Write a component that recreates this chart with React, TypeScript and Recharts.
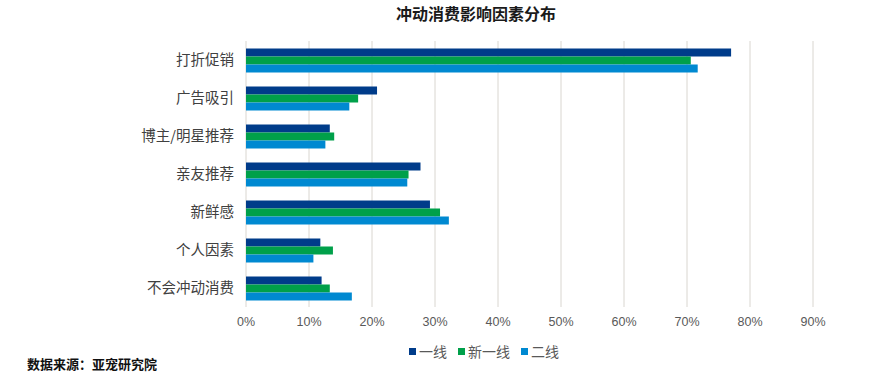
import { Bar, BarChart, CartesianGrid, XAxis, YAxis } from 'recharts';

// 冲动消费影响因素分布 — values in %.
const FACTORS = ['打折促销', '广告吸引', '博主/明星推荐', '亲友推荐', '新鲜感', '个人因素', '不会冲动消费'];
const TIER1 = [77.0, 20.8, 13.3, 27.7, 29.2, 11.8, 12.0];
const NEW_TIER1 = [70.6, 17.8, 14.0, 25.8, 30.8, 13.8, 13.3];
const TIER2 = [71.7, 16.4, 12.6, 25.6, 32.2, 10.7, 16.8];
const X_TICKS = [0, 10, 20, 30, 40, 50, 60, 70, 80, 90];

const SERIES = [
  { key: 'tier1', name: '一线', color: '#003C8A' },
  { key: 'newTier1', name: '新一线', color: '#00A04A' },
  { key: 'tier2', name: '二线', color: '#0089D1' },
];

const FONT = '"Noto Sans CJK SC", "Noto Sans", sans-serif';

export default function App() {
  const data = FACTORS.map((f, i) => ({
    factor: f,
    tier1: TIER1[i],
    newTier1: NEW_TIER1[i],
    tier2: TIER2[i],
  }));

  return (
    <div
      style={{
        position: 'absolute',
        left: 0,
        top: 0,
        width: 893,
        height: 373,
        background: '#fff',
        fontFamily: FONT,
      }}
    >
      <div
        style={{
          position: 'absolute',
          left: 396,
          top: 2,
          fontSize: 16,
          fontWeight: 700,
          color: '#1a1a1a',
          lineHeight: '22px',
          whiteSpace: 'nowrap',
        }}
      >
        冲动消费影响因素分布
      </div>

      <BarChart
        width={893}
        height={373}
        data={data}
        layout="vertical"
        margin={{ top: 41, right: 80, bottom: 36, left: 0 }}
        barCategoryGap="20%"
        barGap={0}
      >
        <CartesianGrid horizontal={false} stroke="#d9d6d0" />
        <XAxis
          type="number"
          domain={[0, 90]}
          ticks={X_TICKS}
          tickFormatter={(v) => `${v}%`}
          axisLine={false}
          tickLine={false}
          tickSize={0}
          tickMargin={10}
          height={30}
          tick={{ fontSize: 12.5, fill: '#595959', fontFamily: 'Arial, "Liberation Sans", sans-serif' }}
        />
        <YAxis
          type="category"
          dataKey="factor"
          width={246}
          axisLine={false}
          tickLine={false}
          tickSize={0}
          tickMargin={12}
          tick={{ fontSize: 14.5, fill: '#404040', fontFamily: FONT }}
        />
        {SERIES.map((s) => (
          <Bar
            key={s.key}
            dataKey={s.key}
            name={s.name}
            fill={s.color}
            isAnimationActive={false}
          />
        ))}
      </BarChart>

      <div
        style={{
          position: 'absolute',
          left: 409,
          top: 341,
          display: 'flex',
          alignItems: 'center',
          fontSize: 14,
          color: '#595959',
          lineHeight: '20px',
          whiteSpace: 'nowrap',
        }}
      >
        {SERIES.map((s) => (
          <span key={s.key} style={{ display: 'flex', alignItems: 'center', marginRight: 11 }}>
            <span style={{ width: 7, height: 7, background: s.color, marginRight: 3 }} />
            {s.name}
          </span>
        ))}
      </div>

      <div
        style={{
          position: 'absolute',
          left: 27,
          top: 355,
          fontSize: 13,
          fontWeight: 700,
          color: '#111',
          lineHeight: '18px',
          whiteSpace: 'nowrap',
        }}
      >
        数据来源：亚宠研究院
      </div>
    </div>
  );
}
